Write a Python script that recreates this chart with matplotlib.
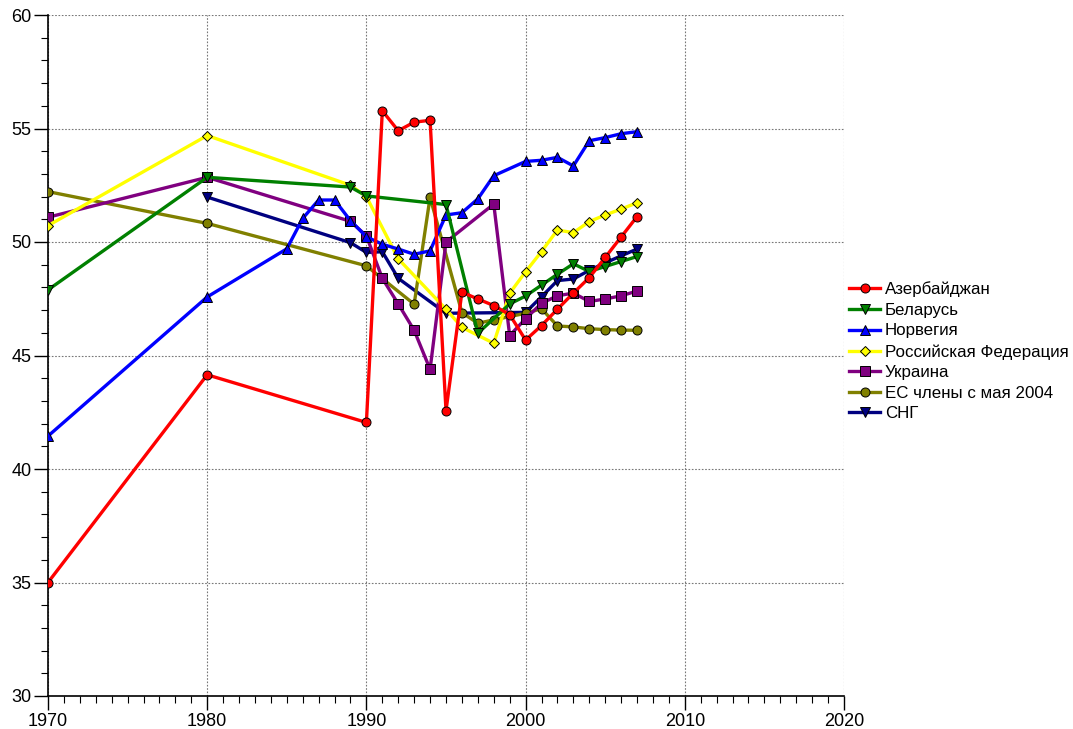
#!/usr/bin/env python
"""Redraw the multi-country line chart (1970-2007) as out.png."""

from __future__ import annotations

import matplotlib

matplotlib.use("Agg")
import matplotlib.pyplot as plt
from matplotlib.ticker import MultipleLocator

# --- data ---
AZE_YEARS = [1970, 1980, 1990, 1991, 1992, 1993, 1994, 1995, 1996, 1997, 1998, 1999,
             2000, 2001, 2002, 2003, 2004, 2005, 2006, 2007]
AZE_VALUES = [35.0, 44.15, 42.05, 55.78, 54.9, 55.28, 55.36, 42.57, 47.79, 47.49, 47.2, 46.8,
              45.68, 46.32, 47.04, 47.75, 48.43, 49.32, 50.22, 51.12]

BLR_YEARS = [1970, 1980, 1989, 1990, 1995, 1997, 1999, 2000, 2001, 2002, 2003, 2004,
             2005, 2006, 2007]
BLR_VALUES = [47.89, 52.85, 52.42, 52.03, 51.65, 45.98, 47.27, 47.62, 48.1, 48.58, 49.04, 48.7,
              48.92, 49.14, 49.36]

NOR_YEARS = [1970, 1980, 1985, 1986, 1987, 1988, 1989, 1990, 1991, 1992, 1993, 1994,
             1995, 1996, 1997, 1998, 2000, 2001, 2002, 2003, 2004, 2005, 2006, 2007]
NOR_VALUES = [41.45, 47.58, 49.7, 51.04, 51.85, 51.85, 50.94, 50.23, 49.9, 49.69, 49.46, 49.61,
              51.19, 51.29, 51.9, 52.92, 53.55, 53.6, 53.73, 53.35, 54.46, 54.6, 54.77, 54.86]

RUS_YEARS = [1970, 1980, 1989, 1990, 1992, 1995, 1996, 1998, 1999, 2000, 2001, 2002,
             2003, 2004, 2005, 2006, 2007]
RUS_VALUES = [50.72, 54.69, 52.5, 52.0, 49.26, 47.04, 46.24, 45.54, 47.74, 48.69, 49.58, 50.53,
              50.41, 50.9, 51.19, 51.45, 51.73]

UKR_YEARS = [1970, 1980, 1989, 1990, 1991, 1992, 1993, 1994, 1995, 1998, 1999, 2000,
             2001, 2002, 2003, 2004, 2005, 2006, 2007]
UKR_VALUES = [51.09, 52.85, 50.91, 50.27, 48.4, 47.27, 46.11, 44.39, 50.0, 51.67, 45.88, 46.62,
              47.3, 47.63, 47.75, 47.38, 47.49, 47.63, 47.84]

EU_YEARS = [1970, 1980, 1990, 1993, 1994, 1996, 1997, 1998, 2000, 2001, 2002, 2003,
            2004, 2005, 2006, 2007]
EU_VALUES = [52.22, 50.82, 48.95, 47.26, 51.97, 46.89, 46.42, 46.57, 46.86, 47.06, 46.3, 46.26,
             46.18, 46.14, 46.12, 46.11]

CIS_YEARS = [1980, 1989, 1990, 1991, 1992, 1995, 2000, 2001, 2002, 2003, 2004, 2005,
             2006, 2007]
CIS_VALUES = [51.98, 49.97, 49.54, 49.57, 48.4, 46.86, 46.9, 47.59, 48.3, 48.37, 48.75, 49.08,
              49.39, 49.69]

SERIES = [
    ("Азербайджан", AZE_YEARS, AZE_VALUES, "#ff0000", "o"),
    ("Беларусь", BLR_YEARS, BLR_VALUES, "#008000", "v"),
    ("Норвегия", NOR_YEARS, NOR_VALUES, "#0000ff", "^"),
    ("Российская Федерация", RUS_YEARS, RUS_VALUES, "#ffff00", "D"),
    ("Украина", UKR_YEARS, UKR_VALUES, "#800080", "s"),
    ("ЕС члены с мая 2004", EU_YEARS, EU_VALUES, "#808000", "o"),
    ("СНГ", CIS_YEARS, CIS_VALUES, "#000080", "v"),
]

X_TICKS = [1970, 1980, 1990, 2000, 2010, 2020]
Y_TICKS = [30, 35, 40, 45, 50, 55, 60]


def plot_chart(output: str = "out.png") -> None:
    plt.rcParams["font.family"] = ["Liberation Sans", "DejaVu Sans"]

    fig = plt.figure(figsize=(10.73, 7.29), dpi=100)
    ax = fig.add_axes([48 / 1073, 1 - 696 / 729, 796 / 1073, 681 / 729])

    n = len(SERIES)
    for i, (label, years, values, color, marker) in enumerate(SERIES):
        msize = 5.5 if marker == "D" else 6.5
        ax.plot(years, values, color=color, linewidth=2.4, marker=marker,
                markersize=msize, markerfacecolor=color, markeredgecolor="black",
                markeredgewidth=0.7, label=label, zorder=3 + n - i)

    ax.set_xlim(1970, 2020)
    ax.set_ylim(30, 60)
    ax.set_xticks(X_TICKS)
    ax.set_yticks(Y_TICKS)
    ax.xaxis.set_minor_locator(MultipleLocator(1))
    ax.yaxis.set_minor_locator(MultipleLocator(1))
    ax.tick_params(which="major", length=10, width=1.0, labelsize=13, direction="out")
    ax.tick_params(which="minor", length=5, width=0.8, direction="out")
    ax.tick_params(axis="x", pad=2)
    ax.tick_params(axis="y", pad=2)

    for side in ("top", "right"):
        ax.spines[side].set_visible(False)
    for side in ("left", "bottom"):
        ax.spines[side].set_linewidth(1.2)

    ax.grid(True, which="major", color="#777777", linestyle=(0, (1.5, 1.5)), linewidth=0.8)
    ax.set_axisbelow(True)

    ax.legend(loc="center left", bbox_to_anchor=(1.0, 0.506), frameon=False, fontsize=12.2,
              handlelength=1.85, handletextpad=0.25, labelspacing=0.33, borderaxespad=0.0,
              borderpad=0.3)

    fig.savefig(output, dpi=100)
    plt.close(fig)


def main() -> None:
    plot_chart()


if __name__ == "__main__":
    main()
